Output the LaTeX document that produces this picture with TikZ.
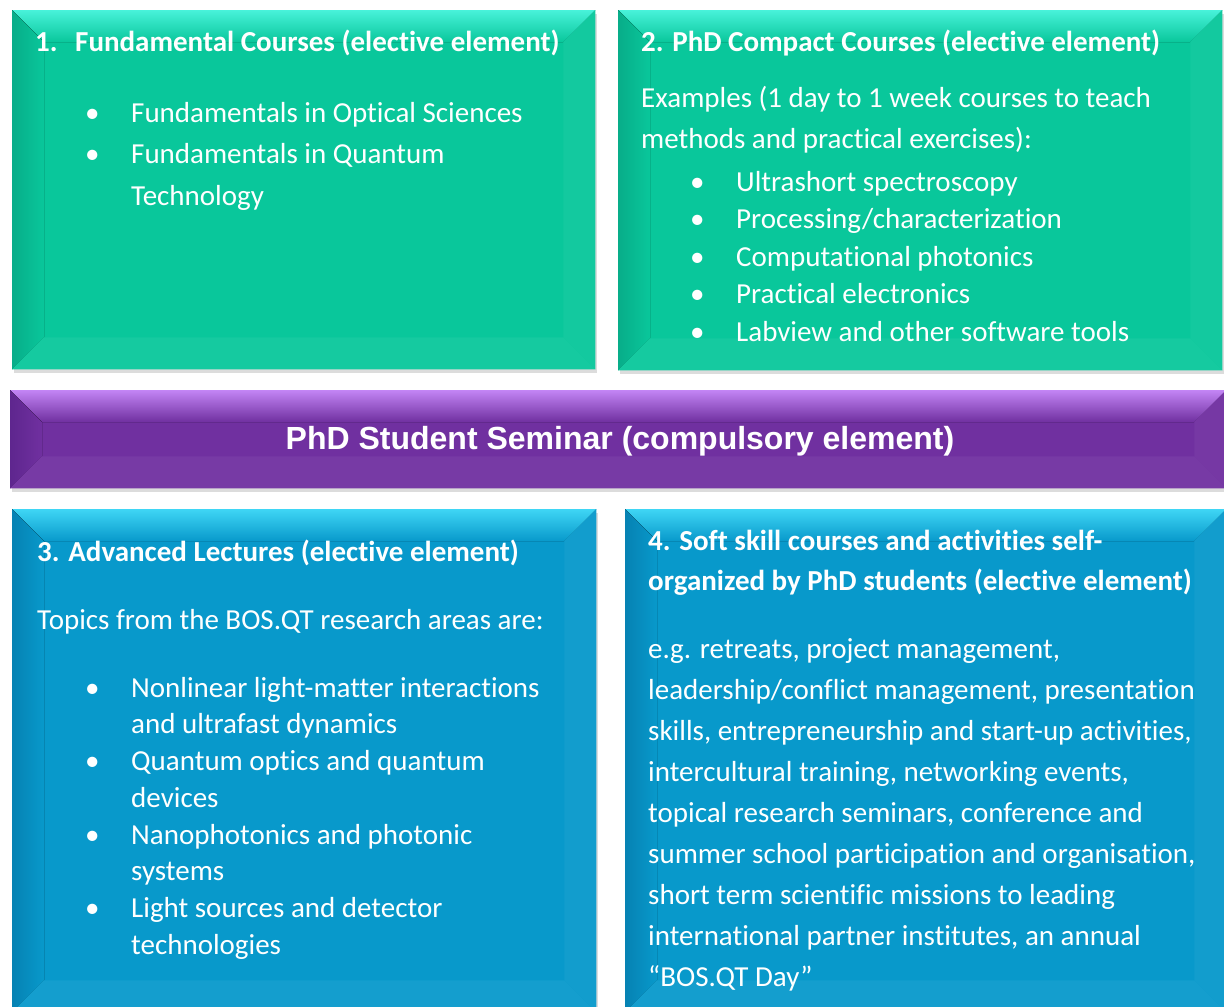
\documentclass[tikz,border=0pt]{standalone}
\usepackage{fontspec}
\setmainfont[Ligatures=TeX,RawFeature={-liga;-clig;-calt}]{Carlito}
\newfontfamily\barfont{Liberation Sans}
\usetikzlibrary{positioning,calc,shadows}

\definecolor{grnbase}{HTML}{09C79B}
\definecolor{grnlight}{HTML}{48F2DA}
\definecolor{grndark}{HTML}{08AD89}
\definecolor{plpbase}{HTML}{7030A0}
\definecolor{plplight}{HTML}{C385F5}
\definecolor{plpdark}{HTML}{5E268E}
\definecolor{blubase}{HTML}{0899CB}
\definecolor{blulight}{HTML}{3FD6F5}
\definecolor{bludark}{HTML}{0682B3}

\tikzset{
  panel/.style={fill=#1, inner sep=0pt, anchor=north west,
    drop shadow={opacity=0.28, shadow xshift=1.5pt, shadow yshift=-4pt}},
  txt/.style={text=white, inner sep=0pt, align=left},
}
\newcommand\bodyfont[1]{\fontsize{29}{#1}\selectfont}
\newcommand\bul{\makebox[46pt][l]{\textbullet}}
\newcommand\indt{\hspace*{46pt}}
% bevelled edges of a panel node
\newcommand\bevel[4]{%
\fill[top color=#2, bottom color=#3] (#1.north west) -- (#1.north east) -- ($(#1.north east)+(-32,32)$) -- ($(#1.north west)+(32,32)$) -- cycle;
\fill[left color=#4, right color=#3] (#1.north west) -- ($(#1.north west)+(32,32)$) -- ($(#1.south west)+(32,-32)$) -- (#1.south west) -- cycle;
\fill[#3!96!white] (#1.north east) -- (#1.south east) -- ($(#1.south east)+(-32,-32)$) -- ($(#1.north east)+(-32,32)$) -- cycle;
\fill[#3!95!white] (#1.south west) -- (#1.south east) -- ($(#1.south east)+(-32,-32)$) -- ($(#1.south west)+(32,-32)$) -- cycle;
}

\begin{document}
\begin{tikzpicture}[x=1pt,y=-1pt]
\useasboundingbox (0,0) rectangle (1224,1007);
\node[panel=grnbase, minimum width=583pt, minimum height=359pt] (fund) at (12,10) {};
\node[panel=grnbase, minimum width=604pt, minimum height=360pt] (compact) at (618,10) {};
\node[panel=plpbase, minimum width=1216pt, minimum height=98pt] (seminar) at (10,390) {};
\node[panel=blubase, minimum width=584pt, minimum height=503pt] (adv) at (12,509) {};
\node[panel=blubase, minimum width=601pt, minimum height=503pt] (soft) at (625,509) {};
\bevel{fund}{grnlight}{grnbase}{grndark}
\bevel{compact}{grnlight}{grnbase}{grndark}
\bevel{seminar}{plplight}{plpbase}{plpdark}
\bevel{adv}{blulight}{blubase}{bludark}
\bevel{soft}{blulight}{blubase}{bludark}

\node[txt, anchor=base west, font=\bodyfont{41}\bfseries] (fundhead) at (35,51) {\makebox[40pt][l]{1.}Fundamental Courses (elective element)};
\node[txt, anchor=north west, font=\bodyfont{41.5}] (fundlist) at (85,93) {\strut\bul Fundamentals in Optical Sciences\\ \bul Fundamentals in Quantum\\ \indt Technology};

\node[txt, anchor=base west, font=\bodyfont{41}\bfseries] (compacthead) at (641,51) {2. PhD Compact Courses (elective element)};
\node[txt, anchor=north west, font=\bodyfont{41}] (compactintro) at (641,78.3) {\strut Examples (1 day to 1 week courses to teach\\ methods and practical exercises):};
\node[txt, anchor=north west, font=\bodyfont{37.5}] (compactlist) at (690,164.75) {\strut\bul Ultrashort spectroscopy\\ \bul Processing/characterization\\ \bul Computational photonics\\ \bul Practical electronics\\ \bul Labview and other software tools};

\node[txt, anchor=base, font=\barfont\fontsize{32}{38}\selectfont\bfseries] (seminartext) at (620,449.5) {PhD Student Seminar (compulsory element)};

\node[txt, anchor=base west, font=\bodyfont{41}\bfseries] (advhead) at (37,561) {3. Advanced Lectures (elective element)};
\node[txt, anchor=base west, font=\bodyfont{41}] (advintro) at (37,629) {Topics from the BOS.QT research areas are:};
\node[txt, anchor=north west, font=\bodyfont{36.7}] (advlist) at (85,671.3) {\strut\bul Nonlinear light-matter interactions\\ \indt and ultrafast dynamics\\ \bul Quantum optics and quantum\\ \indt devices\\ \bul Nanophotonics and photonic\\ \indt systems\\ \bul Light sources and detector\\ \indt technologies};

\node[txt, anchor=north west, font=\bodyfont{40}\bfseries] (softhead) at (648,522) {\strut 4. Soft skill courses and activities self-\\ organized by PhD students (elective element)};
\node[txt, anchor=north west, font=\bodyfont{41.1}] (softtext) at (648,629.2) {\strut e.g. retreats, project management,\\ leadership/conflict management, presentation\\ skills, entrepreneurship and start-up activities,\\ intercultural training, networking events,\\ topical research seminars, conference and\\ summer school participation and organisation,\\ short term scientific missions to leading\\ international partner institutes, an annual\\ “BOS.QT Day”};
\end{tikzpicture}
\end{document}
